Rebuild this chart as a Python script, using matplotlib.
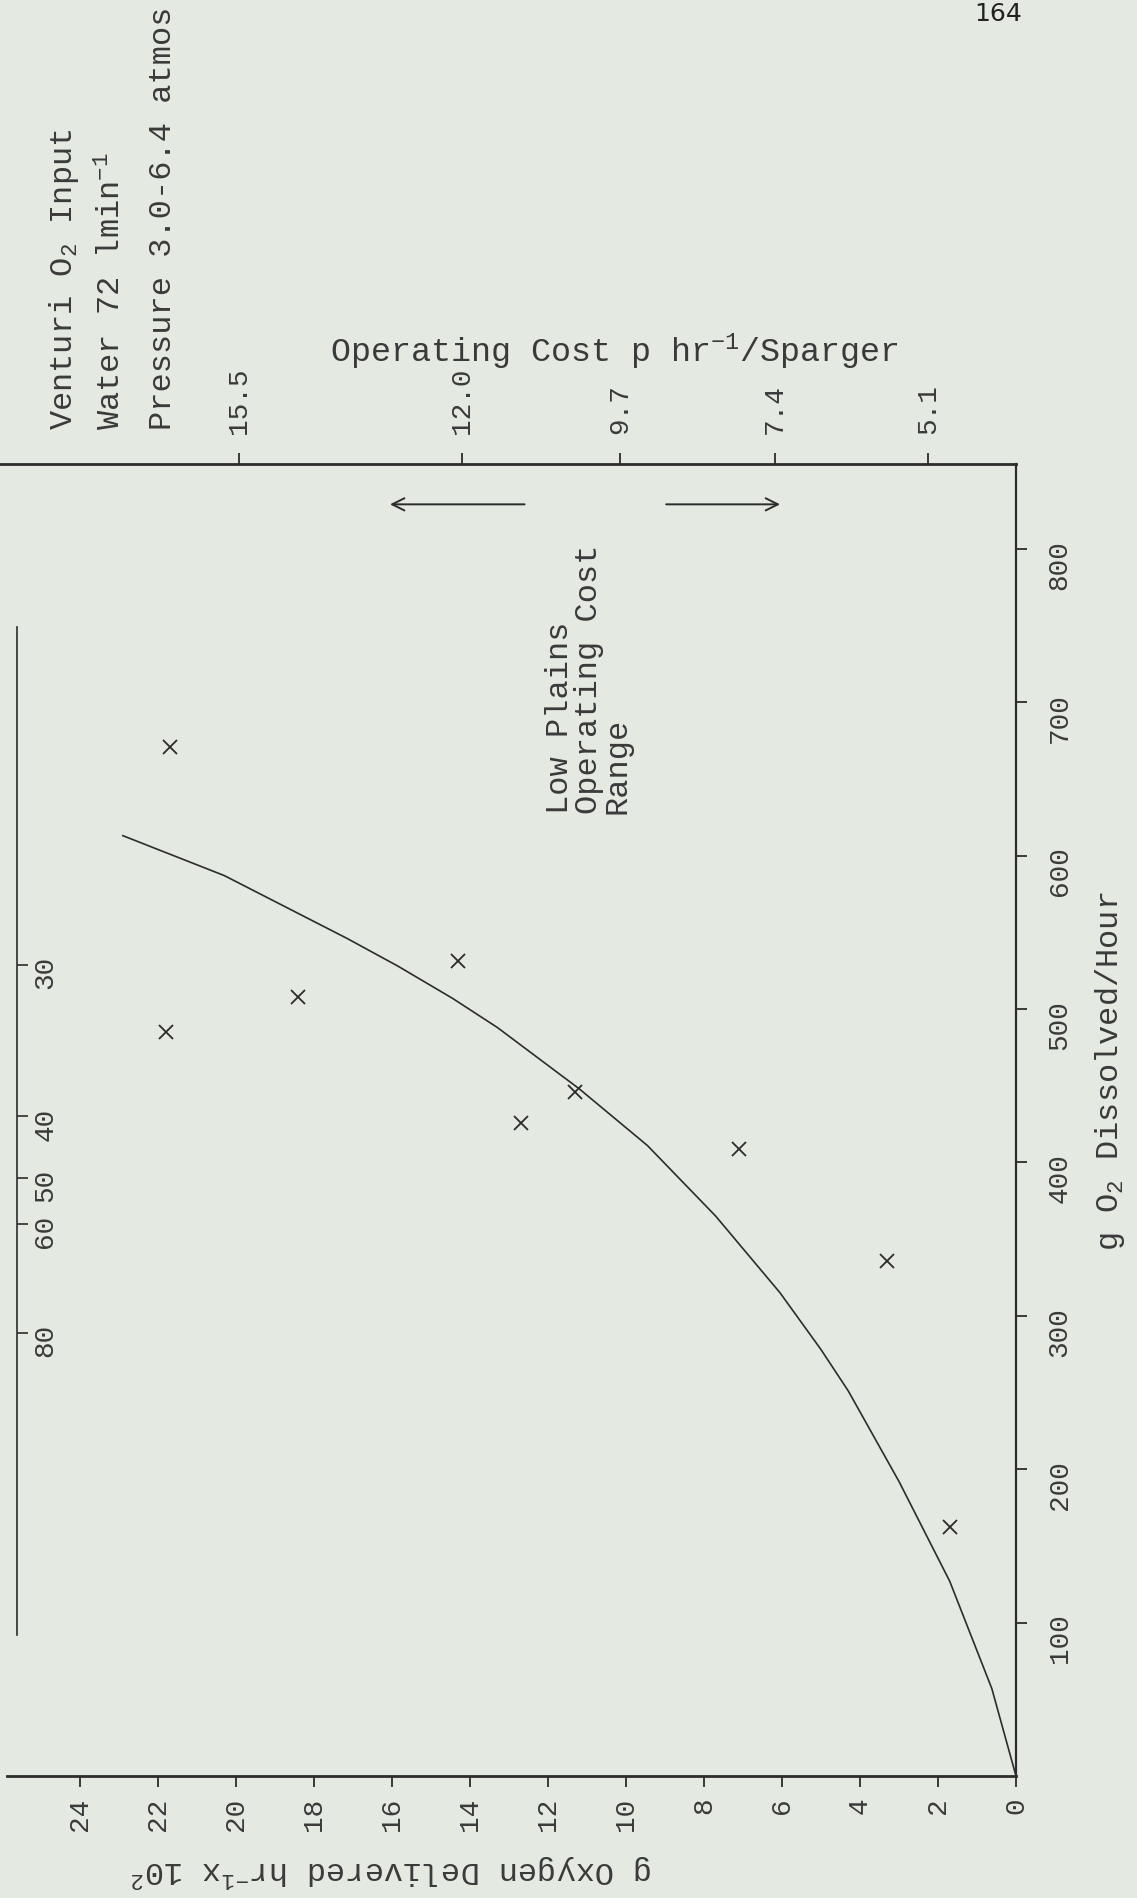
import matplotlib
matplotlib.use("Agg")
import matplotlib.pyplot as plt

# ---------------- data ----------------
# fitted curve: g O2 dissolved/hour  vs  g oxygen delivered hr^-1 x 10^2
curve_dissolved = [0, 57, 127, 192, 251, 278, 315, 365, 411, 448, 488, 507, 528, 546, 587, 613]
curve_delivered = [0, 0.62, 1.7, 3.0, 4.3, 5.0, 6.05, 7.7, 9.45, 11.2, 13.3, 14.45, 15.85, 17.15, 20.3, 22.9]

# measured points (x marks)
pts_dissolved = [162, 336, 409, 426, 446, 485, 508, 531, 671]
pts_delivered = [1.7, 3.3, 7.1, 12.7, 11.3, 21.8, 18.4, 14.3, 21.7]

# axis ticks
delivered_ticks = list(range(0, 25, 2))
dissolved_ticks = list(range(100, 801, 100))

# operating-cost scale (placed along the delivered axis)
cost_positions = [19.92, 14.2, 10.15, 6.18, 2.26]
cost_labels = ["15.5", "12.0", "9.7", "7.4", "5.1"]

# second scale along the dissolved axis
eff_positions = [289, 360, 390, 430, 529]
eff_labels = ["80", "60", "50", "40", "30"]
eff_span = (92, 749)

# "Low Plains Operating Cost Range" arrows (delivered from -> to)
arrow_up = (12.6, 16.05)
arrow_down = (8.97, 6.05)
arrow_level = 829

# ---------------- style ----------------
W, H = 1137, 1899
BG = "#e4e9e2"
INK = "#2c2c2c"
TXT = "#3a3a3a"
plt.rcParams["font.family"] = ["Liberation Mono", "DejaVu Sans"]
plt.rcParams["mathtext.fontset"] = "custom"
plt.rcParams["mathtext.rm"] = "Liberation Mono"
plt.rcParams["mathtext.it"] = "Liberation Mono"
plt.rcParams["mathtext.bf"] = "Liberation Mono:bold"
plt.rcParams["text.color"] = TXT

fig = plt.figure(figsize=(W / 100, H / 100), dpi=100, facecolor=BG)

def fx(px):
    return px / W

def fy(py):
    return 1 - py / H

# axes box in pixels: left 0, right 1016, top 465, bottom 1777
ax = fig.add_axes([fx(0), fy(1777), fx(1016), (1777 - 465) / H])
ax.set_facecolor("none")
ax.set_xlim(26.05, 0)
ax.set_ylim(0, 855.3)

# spines
ax.spines["left"].set_visible(False)
ax.spines["bottom"].set_linewidth(2.0)
ax.spines["bottom"].set_bounds(25.87, 0)
ax.spines["right"].set_linewidth(1.6)
ax.spines["top"].set_linewidth(2.0)
for s in ax.spines.values():
    s.set_color(INK)

# bottom axis (delivered)
ax.set_xticks(delivered_ticks)
ax.set_xticklabels([str(t) for t in delivered_ticks])
ax.tick_params(axis="x", direction="out", length=8, width=1.3, colors=INK,
               labelsize=20, labelrotation=90, pad=7, labelcolor=TXT)

# right axis (dissolved)
ax.yaxis.tick_right()
ax.set_yticks(dissolved_ticks)
ax.set_yticklabels([str(t) for t in dissolved_ticks])
ax.tick_params(axis="y", direction="out", length=8, width=1.3, colors=INK,
               labelsize=20, labelrotation=90, pad=14, labelcolor=TXT)

# top axis: operating cost
sec = ax.secondary_xaxis("top")
sec.set_xticks(cost_positions)
sec.set_xticklabels(cost_labels)
sec.spines["top"].set_visible(False)
sec.tick_params(axis="x", direction="out", length=8, width=1.3, colors=INK,
                labelsize=20, labelrotation=90, pad=14, labelcolor=TXT)

# left line with the second scale
sec2 = ax.secondary_yaxis(17 / 1016)
sec2.set_alignment("right")
sec2.spines["right"].set_bounds(*eff_span)
sec2.spines["right"].set_linewidth(1.2)
sec2.spines["right"].set_color(INK)
sec2.set_yticks(eff_positions)
sec2.set_yticklabels(eff_labels)
sec2.tick_params(axis="y", direction="out", length=8, width=1.2, colors=INK,
                 labelsize=20, labelrotation=90, pad=3, labelcolor=TXT)

# curve and points
ax.plot(curve_delivered, curve_dissolved, color=INK, lw=1.2, solid_joinstyle="round")
ax.plot(pts_delivered, pts_dissolved, linestyle="none", marker="x", ms=10,
        mew=1.3, color=INK)

# arrows
for a, b in (arrow_up, arrow_down):
    ax.annotate("", xy=(b, arrow_level), xytext=(a, arrow_level),
                arrowprops=dict(arrowstyle="->", lw=1.4, color=INK,
                                mutation_scale=22, shrinkA=0, shrinkB=0))

# annotation text
ax.text(10.95, 628, "Low Plains\nOperating Cost\nRange", rotation=90,
        ha="center", va="bottom", multialignment="left", linespacing=0.95,
        fontsize=23)

# axis titles
ax.text(1110 / 1016, 0.538, "g O$_2$ Dissolved/Hour", transform=ax.transAxes,
        rotation=90, ha="center", va="center", fontsize=23)
ax.text(392 / 1016, (1777 - 1870) / (1777 - 465),
        "g Oxygen Delivered hr$^{-1}$x 10$^{2}$", transform=ax.transAxes,
        rotation=180, ha="center", va="center", fontsize=23)

# header texts
fig.text(fx(330), fy(352), "Operating Cost p hr$^{-1}$/Sparger", ha="left",
         va="center", fontsize=24)
fig.text(fx(64), fy(430), "Venturi O$_2$ Input", rotation=90, ha="center",
         va="bottom", fontsize=23)
fig.text(fx(112), fy(430), "Water 72 lmin$^{-1}$", rotation=90, ha="center",
         va="bottom", fontsize=23)
fig.text(fx(163), fy(430), "Pressure 3.0-6.4 atmos", rotation=90, ha="center",
         va="bottom", fontsize=23)
fig.text(fx(998), fy(14), "164", family="DejaVu Sans", fontsize=18,
         ha="center", va="center", color="#222222")

fig.savefig("out.png", dpi=100, facecolor=BG)
